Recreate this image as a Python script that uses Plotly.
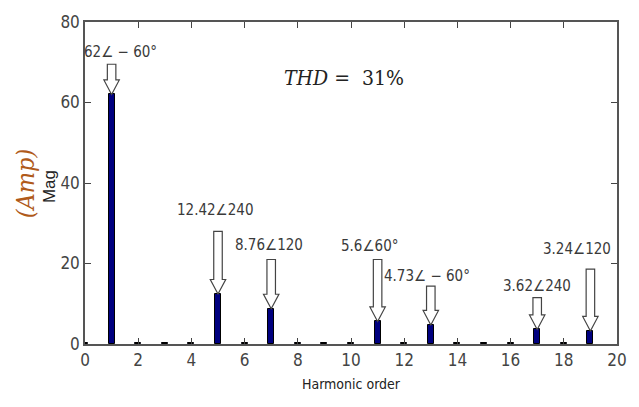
import plotly.graph_objects as go

# Data
harmonic_order = list(range(0, 20))
magnitude = [0.3, 62, 0.3, 0.3, 0.3, 12.42, 0.3, 8.76, 0.3, 0.3,
             0.3, 5.6, 0.3, 4.73, 0.3, 0.3, 0.3, 3.62, 0.3, 3.24]

labelled_orders = [1, 5, 7, 11, 13, 17, 19]
label_texts = ["62∠ − 60°", "12.42∠240", "8.76∠120", "5.6∠60°",
               "4.73∠ − 60°", "3.62∠240", "3.24∠120"]
# layout of arrows/labels (in data units)
arrow_tops = [69.5, 28.0, 21.0, 21.0, 14.4, 11.5, 18.6]
label_x = [1.35, 4.9, 6.9, 10.7, 12.85, 17.0, 18.5]
label_y = [72.6, 33.2, 24.7, 24.3, 16.9, 14.4, 23.7]

thd_text = "<i>THD</i> =  31%"

mag_lookup = dict(zip(harmonic_order, magnitude))

NARROW = "DejaVu Sans Condensed, Liberation Sans Narrow, Liberation Sans, Arial"

fig = go.Figure()
fig.add_trace(go.Bar(
    x=harmonic_order, y=magnitude, width=0.22,
    marker=dict(color="#00007f", line=dict(color="#000000", width=1)),
    showlegend=False,
))

shapes = []
annotations = []
sw, hw, hh = 0.16, 0.29, 3.6
for h, top, txt, lx, ly in zip(labelled_orders, arrow_tops, label_texts, label_x, label_y):
    tip = mag_lookup[h]
    base = tip + hh
    path = (f"M {h} {tip} L {h-hw} {base} L {h-sw} {base} L {h-sw} {top} "
            f"L {h+sw} {top} L {h+sw} {base} L {h+hw} {base} Z")
    shapes.append(dict(type="path", path=path, xref="x", yref="y",
                       fillcolor="white", line=dict(color="#444444", width=1.2)))
    annotations.append(dict(x=lx, y=ly, xref="x", yref="y", text=txt, showarrow=False,
                            font=dict(family=NARROW, size=15, color="#3a3a3a")))

annotations.append(dict(x=9.75, y=66, xref="x", yref="y", text=thd_text, showarrow=False,
                        font=dict(family="DejaVu Serif Condensed, DejaVu Serif, serif", size=21, color="#222222")))
annotations.append(dict(x=-0.1115, y=0.498, xref="paper", yref="paper", text="<i>(Amp)</i>",
                        textangle=-90, showarrow=False, xanchor="center", yanchor="middle",
                        font=dict(family="DejaVu Serif Condensed, DejaVu Serif, serif", size=25, color="#b05a1a")))
annotations.append(dict(x=-0.068, y=0.49, xref="paper", yref="paper", text="Mag",
                        textangle=-90, showarrow=False, xanchor="center", yanchor="middle",
                        font=dict(family="Liberation Sans, Arial", size=17, color="#222222")))

fig.update_layout(
    width=639, height=407,
    margin=dict(l=85, r=16, t=17, b=63),
    paper_bgcolor="white", plot_bgcolor="white",
    shapes=shapes, annotations=annotations,
    bargap=0,
    xaxis=dict(range=[0, 20], tickvals=list(range(0, 21, 2)), ticks="inside", ticklen=6,
               tickcolor="#444444", showline=True, linecolor="#555555", linewidth=1.5, mirror="ticks",
               showgrid=False, zeroline=False,
               tickfont=dict(family=NARROW, size=17, color="#444444"),
               title=dict(text="Harmonic order", standoff=10,
                          font=dict(family=NARROW, size=14, color="#222222"))),
    yaxis=dict(range=[0, 80], tickvals=[0, 20, 40, 60, 80], ticks="inside", ticklen=6,
               tickcolor="#444444", showline=True, linecolor="#555555", linewidth=1.5, mirror="ticks",
               showgrid=False, zeroline=False,
               tickfont=dict(family=NARROW, size=17, color="#444444")),
)

fig.write_html("out.html", config={"displayModeBar": False},
               post_script="document.body.style.margin='0';")
